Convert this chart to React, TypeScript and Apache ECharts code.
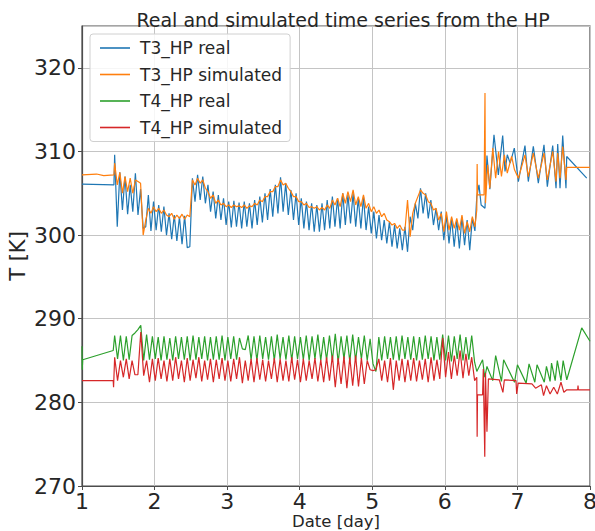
import React, { useEffect, useRef } from "react";
import * as echarts from "echarts";

// ---- data ----
const seriesNames = ["T3_HP real", "T3_HP simulated", "T4_HP real", "T4_HP simulated"];
const xTicks = [1, 2, 3, 4, 5, 6, 7, 8];
const yTicks = [270, 280, 290, 300, 310, 320];

// sampled part: first sample day and sample interval (days)
const T3_START = 1.45;
const T3_STEP = 1 / 28;
const T4_START = 1.45;
const T4_STEP = 0.04;

const t3RealHead: [number, number][] = [[1.0, 306.1], [1.44, 306.0]];
const t3RealSamples = [
  309.6, 301.0, 307.5, 303.0, 307.0, 302.5, 306.0,
  302.8, 307.4, 302.4, 305.5, 300.8, 301.0, 304.8,
  300.5, 304.0, 300.6, 303.6, 300.4, 303.4, 300.0,
  302.6, 299.5, 302.4, 299.3, 302.2, 298.9, 302.3,
  298.5, 298.6, 306.8, 304.0, 307.2, 304.2, 307.0,
  303.8, 306.0, 302.8, 305.2, 302.0, 304.8, 301.8,
  304.4, 301.2, 304.0, 300.9, 304.1, 301.0, 303.9,
  300.8, 304.0, 301.0, 303.8, 300.8, 304.2, 301.2,
  304.6, 301.5, 305.0, 301.8, 305.5, 302.2, 306.0,
  302.6, 306.9, 302.8, 306.2, 302.4, 305.4, 301.8,
  305.0, 301.2, 304.4, 300.8, 304.0, 300.6, 303.8,
  300.4, 303.6, 300.4, 303.8, 300.6, 304.2, 300.8,
  304.6, 301.0, 304.4, 300.8, 305.0, 301.2, 304.8,
  301.4, 305.0, 301.0, 304.4, 300.8, 304.6, 300.6,
  303.4, 300.2, 302.8, 299.6, 302.4, 299.4, 301.8,
  299.0, 301.6, 298.6, 301.2, 298.4, 300.8, 298.2,
  301.0, 298.0, 302.2, 300.6, 303.8, 302.0, 305.6,
  302.6, 305.0, 302.0, 304.2, 301.2, 303.2, 300.6,
  302.8, 299.4, 302.4, 299.0, 302.0, 298.6, 301.8,
  298.4, 302.2, 298.8, 301.8, 298.2, 302.0, 300.5,
];
const t3RealTail: [number, number][] = [
  [6.44, 304.6], [6.47, 306.0], [6.5, 303.6], [6.553, 303.2], [6.58, 309.5], [6.62, 305.5],
  [6.677, 312.0], [6.737, 307.2], [6.797, 311.9], [6.829, 307.6], [6.86, 309.6], [6.9, 308.6],
  [6.957, 310.4], [7.013, 306.4], [7.104, 310.7], [7.15, 306.4], [7.219, 310.6], [7.288, 306.2],
  [7.366, 310.8], [7.412, 305.8], [7.486, 310.7], [7.532, 305.6], [7.555, 310.9], [7.587, 305.6],
  [7.624, 311.9], [7.669, 305.6], [7.679, 309.4], [7.955, 306.8],
];

const t3SimHead: [number, number][] = [[1.0, 307.2], [1.2, 307.3], [1.3, 307.1], [1.44, 307.2]];
const t3SimSamples = [
  308.6, 306.0, 307.5, 305.0, 307.0, 305.2, 306.8,
  305.0, 306.6, 306.4, 306.2, 300.0, 301.8, 303.2,
  302.6, 303.4, 302.8, 303.2, 302.6, 303.0, 302.4,
  302.2, 302.6, 301.9, 302.4, 302.0, 302.5, 301.9,
  302.4, 302.2, 306.6, 306.0, 306.8, 306.2, 306.6,
  305.6, 305.2, 304.4, 304.8, 303.8, 304.2, 303.6,
  303.8, 303.4, 303.6, 303.3, 303.6, 303.4, 303.5,
  303.3, 303.6, 303.2, 303.5, 303.4, 303.8, 303.6,
  304.2, 304.0, 304.6, 304.6, 305.2, 305.2, 305.8,
  305.8, 306.6, 306.0, 306.2, 305.6, 305.2, 304.6,
  304.6, 304.0, 304.0, 303.6, 303.8, 303.3, 303.4,
  303.2, 303.4, 303.0, 303.3, 303.0, 303.6, 303.2,
  304.2, 303.6, 304.4, 303.4, 305.0, 303.8, 305.2,
  304.0, 305.4, 303.6, 304.6, 303.4, 304.8, 303.2,
  303.8, 302.8, 303.4, 302.6, 303.0, 302.2, 302.6,
  301.8, 301.6, 301.2, 301.4, 300.8, 301.2, 300.6,
  300.6, 304.2, 299.8, 302.6, 303.8, 304.6, 305.4,
  305.0, 304.8, 304.0, 303.8, 303.0, 303.2, 301.8,
  302.6, 300.4, 302.8, 300.6, 302.2, 300.8, 302.0,
  300.6, 302.4, 300.2, 301.6, 300.4, 302.2, 301.0,
];
const t3SimTail: [number, number][] = [
  [6.44, 303.0], [6.445, 308.5], [6.45, 304.8], [6.54, 304.8], [6.553, 317.0], [6.56, 303.8],
  [6.59, 308.4], [6.62, 305.6], [6.66, 310.4], [6.7, 306.8], [6.74, 310.0], [6.78, 307.0],
  [6.82, 309.6], [6.86, 307.4], [6.92, 309.4], [6.96, 307.8], [7.013, 306.8], [7.104, 309.6],
  [7.15, 307.0], [7.219, 309.8], [7.288, 306.8], [7.366, 309.8], [7.412, 306.6], [7.486, 310.0],
  [7.532, 306.4], [7.555, 309.8], [7.587, 306.8], [7.624, 310.6], [7.669, 306.6], [7.68, 308.1],
  [8.0, 308.1],
];

const t4RealHead: [number, number][] = [[1.0, 286.7], [1.003, 283.9], [1.01, 285.1], [1.43, 286.2]];
const t4RealSamples = [
  288.0, 285.2, 288.0, 285.0, 287.9,
  285.1, 288.0, 288.3, 288.7, 289.2,
  285.0, 288.1, 285.1, 287.9, 285.2,
  287.8, 285.0, 287.9, 285.1, 287.7,
  285.0, 287.9, 285.2, 287.8, 285.1,
  287.9, 285.0, 288.0, 285.1, 287.8,
  285.2, 287.9, 285.0, 287.8, 285.1,
  287.9, 285.1, 288.0, 285.0, 287.8,
  285.2, 287.9, 285.1, 287.7, 286.4,
  286.3, 288.0, 285.1, 287.9, 285.0,
  288.0, 285.2, 287.8, 285.1, 287.9,
  285.0, 288.1, 285.2, 287.8, 285.1,
  288.0, 285.0, 287.9, 285.2, 287.8,
  285.1, 288.0, 285.0, 287.9, 285.2,
  288.1, 285.0, 287.8, 285.1, 288.0,
  285.0, 288.2, 284.8, 287.9, 285.2,
  288.0, 284.9, 288.1, 285.0, 287.8,
  285.2, 288.0, 285.0, 287.6, 284.6,
  283.7, 287.8, 285.0, 287.9, 285.2,
  287.8, 285.1, 287.9, 285.0, 288.0,
  285.2, 287.8, 285.1, 287.9, 285.0,
  287.8, 285.1, 288.0, 285.2, 287.9,
  285.0, 287.8, 285.1, 288.1, 285.0,
  288.0, 284.9, 287.9, 285.2, 288.1,
  285.0, 287.8, 285.1, 288.0, 284.8,
];
const t4RealTail: [number, number][] = [
  [6.44, 283.7], [6.52, 285.1], [6.55, 283.0], [6.58, 284.3], [6.66, 282.6], [6.7, 285.6],
  [6.78, 282.5], [6.81, 285.1], [6.96, 282.4], [7.0, 284.5], [7.12, 282.3], [7.16, 284.6],
  [7.24, 282.4], [7.27, 284.5], [7.37, 282.4], [7.4, 284.3], [7.45, 282.5], [7.47, 284.7],
  [7.52, 282.6], [7.55, 285.0], [7.6, 282.6], [7.63, 285.0], [7.68, 282.7], [7.886, 288.9],
  [8.0, 287.3],
];

const t4SimHead: [number, number][] = [[1.0, 282.6], [1.43, 282.6], [1.435, 281.8]];
const t4SimSamples = [
  285.4, 282.6, 285.0, 283.0, 285.2,
  282.8, 285.0, 283.3, 283.3, 288.4,
  283.2, 285.0, 282.4, 285.2, 282.6,
  285.3, 282.8, 285.0, 282.5, 285.2,
  282.6, 285.4, 282.8, 285.0, 282.4,
  285.3, 282.6, 285.1, 282.9, 285.4,
  282.5, 285.0, 282.7, 285.2, 282.4,
  285.1, 282.8, 285.3, 282.6, 285.0,
  282.5, 285.2, 282.8, 285.4, 282.3,
  285.0, 282.6, 285.2, 282.4, 285.3,
  282.7, 285.1, 282.5, 285.0, 282.8,
  285.3, 282.4, 285.2, 282.6, 285.0,
  282.5, 285.4, 282.7, 285.1, 282.4,
  285.2, 282.6, 285.0, 282.8, 285.3,
  282.5, 285.1, 282.4, 285.4, 282.6,
  285.6, 281.8, 285.3, 282.2, 285.5,
  281.7, 285.4, 282.0, 285.6, 281.9,
  285.3, 282.2, 285.0, 283.9, 283.8,
  283.9, 285.2, 282.6, 285.0, 282.4,
  285.3, 281.5, 285.0, 282.6, 285.2,
  282.4, 285.1, 282.6, 285.3, 282.5,
  285.0, 282.7, 285.2, 282.4, 285.4,
  282.6, 285.1, 282.8, 287.7, 283.0,
  286.0, 282.8, 285.6, 283.2, 286.2,
  282.9, 285.8, 283.2, 285.4, 282.6,
];
const t4SimTail: [number, number][] = [
  [6.44, 283.0], [6.445, 275.9], [6.45, 280.9], [6.52, 280.9], [6.53, 284.0], [6.55, 273.5],
  [6.56, 283.5], [6.58, 276.5], [6.6, 282.8], [6.75, 282.7], [6.8, 281.2], [6.82, 282.7],
  [6.98, 282.6], [6.99, 281.0], [7.01, 282.3], [7.2, 282.2], [7.25, 281.7], [7.33, 282.1],
  [7.36, 280.8], [7.4, 282.0], [7.45, 281.0], [7.5, 281.8], [7.55, 281.0], [7.6, 282.4],
  [7.64, 281.2], [7.68, 281.5], [7.83, 281.5], [7.835, 282.0], [7.84, 281.5], [8.0, 281.5],
];

function assemble(
  head: [number, number][],
  start: number,
  step: number,
  samples: number[],
  tail: [number, number][]
): [number, number][] {
  const mid = samples.map((v, i) => [start + i * step, v] as [number, number]);
  return [...head, ...mid, ...tail];
}

const colors = ["#1f77b4", "#ff7f0e", "#2ca02c", "#d62728"];
const FONT = "DejaVu Sans";
const TXT = "#262626";

export default function App() {
  const ref = useRef<HTMLDivElement>(null);
  useEffect(() => {
    if (!ref.current) return;
    const chart = echarts.init(ref.current, undefined, { renderer: "svg" });
    const data = [
      assemble(t3RealHead, T3_START, T3_STEP, t3RealSamples, t3RealTail),
      assemble(t3SimHead, T3_START, T3_STEP, t3SimSamples, t3SimTail),
      assemble(t4RealHead, T4_START, T4_STEP, t4RealSamples, t4RealTail),
      assemble(t4SimHead, T4_START, T4_STEP, t4SimSamples, t4SimTail),
    ];
    chart.setOption({
      animation: false,
      backgroundColor: "#ffffff",
      textStyle: { fontFamily: FONT },
      title: {
        text: "Real and simulated time series from the HP",
        left: 338,
        textAlign: "center",
        top: 5,
        textStyle: { fontFamily: FONT, fontSize: 19, fontWeight: "normal", color: TXT },
      },
      grid: {
        left: 82,
        right: 5,
        top: 26,
        bottom: 45,
        containLabel: false,
        outerBoundsMode: "none",
        show: true,
        borderColor: "#4d4d4d",
        borderWidth: 1.2,
        backgroundColor: "transparent",
      },
      legend: {
        data: seriesNames,
        orient: "vertical",
        left: 90,
        top: 34,
        padding: [4, 8, 4, 10],
        itemGap: 6.5,
        itemWidth: 30,
        itemHeight: 1.6,
        icon: "rect",
        backgroundColor: "rgba(255,255,255,0.85)",
        borderColor: "#d0d0d0",
        borderWidth: 1,
        borderRadius: 3,
        textStyle: {
          fontFamily: FONT,
          fontSize: 17,
          color: TXT,
          lineHeight: 20,
          padding: [0, 0, 0, 5],
        },
      },
      xAxis: {
        type: "value",
        min: 1,
        max: 8,
        interval: 1,
        name: "Date [day]",
        nameLocation: "middle",
        nameGap: 27,
        nameMoveOverlap: false,
        nameTextStyle: { fontFamily: FONT, fontSize: 16.5, color: TXT, lineHeight: 17 },
        axisLine: { show: true, lineStyle: { color: "#4d4d4d", width: 1.2 } },
        axisTick: { show: true, length: 4, lineStyle: { color: "#4d4d4d" } },
        axisLabel: {
          fontFamily: FONT,
          fontSize: 22,
          lineHeight: 22,
          color: TXT,
          margin: 4,
          formatter: (v: number) => (xTicks.includes(v) ? String(v) : ""),
        },
        splitLine: { show: true, lineStyle: { color: "#c4c4c4", width: 1 } },
      },
      yAxis: {
        type: "value",
        min: 270,
        max: 325,
        interval: 10,
        name: "T [K]",
        nameLocation: "middle",
        nameGap: 54,
        nameMoveOverlap: false,
        nameTextStyle: { fontFamily: FONT, fontSize: 21, color: TXT },
        axisLine: { show: true, lineStyle: { color: "#4d4d4d", width: 1.2 } },
        axisTick: { show: true, length: 4, lineStyle: { color: "#4d4d4d" } },
        axisLabel: {
          fontFamily: FONT,
          fontSize: 22,
          color: TXT,
          margin: 6,
          showMaxLabel: false,
          formatter: (v: number) => (yTicks.includes(v) ? String(v) : ""),
        },
        splitLine: { show: true, lineStyle: { color: "#c4c4c4", width: 1 } },
      },
      series: seriesNames.map((name, k) => ({
        name,
        type: "line",
        data: data[k],
        showSymbol: false,
        symbol: "none",
        lineStyle: { color: colors[k], width: 1.2 },
        itemStyle: { color: colors[k] },
        z: 2 + k,
      })),
    });
    return () => chart.dispose();
  }, []);
  return (
    <div
      ref={ref}
      style={{ position: "fixed", left: 0, top: 0, width: 595, height: 531, background: "#fff" }}
    />
  );
}
